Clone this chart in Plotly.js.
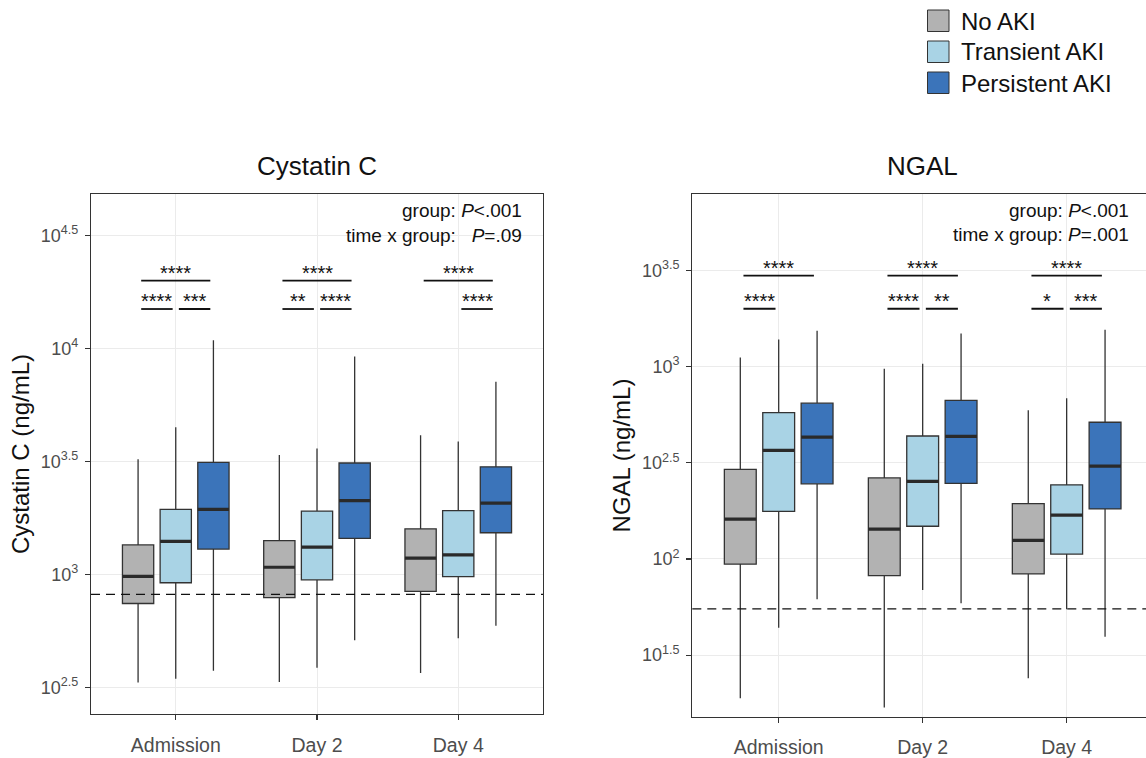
<!DOCTYPE html>
<html><head><meta charset="utf-8">
<script src="https://cdn.plot.ly/plotly-3.0.1.min.js"></script>
<style>html,body{margin:0;padding:0;background:#fff}</style>
</head><body><div id="chart" style="width:1146px;height:758px"></div>
<script>
// ---------------- data ----------------
const timepoints = ['Admission', 'Day 2', 'Day 4'];
const groupNames = ['No AKI', 'Transient AKI', 'Persistent AKI'];

// Cystatin C (ng/mL): box statistics per time point
const cysNoAKI      = {lower: [332, 334, 366],  q1: [743, 789, 841],   median: [980, 1075, 1180],  q3: [1350, 1410, 1590], upper: [3230, 3370, 4130]};
const cysTransient  = {lower: [345, 386, 521],  q1: [918, 946, 977],   median: [1400, 1320, 1220], q3: [1940, 1905, 1915], upper: [4480, 3600, 3870]};
const cysPersistent = {lower: [374, 511, 593],  q1: [1294, 1442, 1528],median: [1940, 2120, 2065], q3: [3130, 3110, 2990], upper: [10860, 9200, 7110]};
const cysThreshold = 815;

// NGAL (ng/mL)
const ngalNoAKI      = {lower: [18.9, 16.9, 24.0], q1: [94, 82, 83.6],   median: [161, 143, 125], q3: [292, 264, 194], upper: [1117, 975, 593]};
const ngalTransient  = {lower: [43.9, 68.9, 54.8], q1: [177, 148, 106],  median: [367, 253, 169], q3: [577, 436, 243], upper: [1384, 1035, 684]};
const ngalPersistent = {lower: [61.7, 58.9, 39.4], q1: [246, 247, 182],  median: [430, 434, 304], q3: [646, 667, 514], upper: [1535, 1486, 1556]};
const ngalThreshold = 55;

// y tick labels (exponents of 10)
const cysTickExps  = [2.5, 3, 3.5, 4, 4.5];
const ngalTickExps = [1.5, 2, 2.5, 3, 3.5];

// pairwise comparisons: [time index, group a, group b, label, row (0 = top, 1 = lower)]
const cysSig = [
  [0, 0, 2, '****', 0], [0, 0, 1, '****', 1], [0, 1, 2, '***', 1],
  [1, 0, 2, '****', 0], [1, 0, 1, '**', 1],   [1, 1, 2, '****', 1],
  [2, 0, 2, '****', 0], [2, 1, 2, '****', 1]
];
const ngalSig = [
  [0, 0, 2, '****', 0], [0, 0, 1, '****', 1],
  [1, 0, 2, '****', 0], [1, 0, 1, '****', 1], [1, 1, 2, '**', 1],
  [2, 0, 2, '****', 0], [2, 0, 1, '*', 1],    [2, 1, 2, '***', 1]
];
const cysStats  = ['group: <i>P</i>&lt;.001', 'time x group:\u00a0\u00a0\u00a0<i>P</i>=.09'];
const ngalStats = ['group: <i>P</i>&lt;.001', 'time x group: <i>P</i>=.001'];

// ---------------- style ----------------
const FONT = 'Liberation Sans, Arial, Helvetica, sans-serif';
const fills = ['#b2b2b2', '#a9d3e5', '#3b74ba'];
const W = 1146, H = 758;
const px = v => v / W;
const py = v => 1 - v / H;
const slot = 0.8 / 3;

const traces = [];
function addPanel(series, xa, ya) {
  series.forEach((s, g) => {
    traces.push({
      type: 'box', x: timepoints, xaxis: xa, yaxis: ya,
      q1: s.q1, median: s.median, q3: s.q3, lowerfence: s.lower, upperfence: s.upper,
      name: groupNames[g], offsetgroup: 'g' + g, fillcolor: fills[g], whiskerwidth: 0,
      line: {color: '#333333', width: 1.3}, boxpoints: false, hoverinfo: 'skip', showlegend: false
    });
    traces.push({
      type: 'box', x: timepoints, xaxis: xa, yaxis: ya,
      q1: s.median, median: s.median, q3: s.median, lowerfence: s.median, upperfence: s.median,
      name: groupNames[g] + ' median', offsetgroup: 'g' + g, fillcolor: 'rgba(0,0,0,0)', whiskerwidth: 0,
      line: {color: '#2a2a2a', width: 3.2}, boxpoints: false, hoverinfo: 'skip', showlegend: false
    });
  });
}
addPanel([cysNoAKI, cysTransient, cysPersistent], 'x', 'y');
addPanel([ngalNoAKI, ngalTransient, ngalPersistent], 'x2', 'y2');

const shapes = [];
const annotations = [];

function sigMarks(list, xref, yref, levels) {
  list.forEach(([t, a, b, label, row]) => {
    const x0 = t + (a - 1) * slot + 0.022;
    const x1 = t + (b - 1) * slot - 0.022;
    const y = levels[row];
    shapes.push({type: 'line', xref, yref, x0, x1, y0: y, y1: y, line: {color: '#111', width: 1.8}, layer: 'above'});
    annotations.push({xref, yref, x: (x0 + x1) / 2, y: Math.log10(y), text: label, showarrow: false,
      yanchor: 'bottom', yshift: -5, font: {family: FONT, size: 20, color: '#111'}});
  });
}
sigMarks(cysSig, 'x', 'y', [19950, 14930]);
sigMarks(ngalSig, 'x2', 'y2', [2972, 2000]);

// threshold lines
shapes.push({type: 'line', xref: 'x domain', yref: 'y', x0: 0, x1: 1, y0: cysThreshold, y1: cysThreshold,
  line: {color: '#111', width: 1.3, dash: '9px,6px'}});
shapes.push({type: 'line', xref: 'x2 domain', yref: 'y2', x0: 0, x1: 1, y0: ngalThreshold, y1: ngalThreshold,
  line: {color: '#111', width: 1.3, dash: '9px,6px'}});

// legend
groupNames.forEach((n, i) => {
  shapes.push({type: 'rect', xref: 'paper', yref: 'paper', x0: px(927.5), x1: px(949), y0: py(10 + 31 * i), y1: py(31.5 + 31 * i),
    fillcolor: fills[i], line: {color: '#333', width: 1}});
  annotations.push({xref: 'paper', yref: 'paper', x: px(959), y: py(21 + 31 * i), xanchor: 'left', yanchor: 'middle',
    text: n, showarrow: false, font: {family: FONT, size: 24, color: '#111'}});
});

// panel titles
annotations.push({xref: 'paper', yref: 'paper', x: px(317), y: py(166), xanchor: 'center', yanchor: 'middle',
  text: 'Cystatin C', showarrow: false, font: {family: FONT, size: 26, color: '#111'}});
annotations.push({xref: 'paper', yref: 'paper', x: px(922.5), y: py(166), xanchor: 'center', yanchor: 'middle',
  text: 'NGAL', showarrow: false, font: {family: FONT, size: 26, color: '#111'}});

// statistics text
[[cysStats, 523.5, [210, 235]], [ngalStats, 1131, [210, 234]]].forEach(([lines, xr, ys]) => {
  lines.forEach((t, i) => annotations.push({xref: 'paper', yref: 'paper', x: px(xr), y: py(ys[i]), xanchor: 'right', yanchor: 'middle',
    text: t, showarrow: false, font: {family: FONT, size: 19, color: '#111'}}));
});

const xBase = {
  type: 'category', showline: true, linecolor: '#333', linewidth: 1.1, mirror: true,
  ticks: 'outside', ticklen: 5, tickwidth: 1.1, tickcolor: '#333', showgrid: true, gridcolor: '#ebebeb', gridwidth: 1,
  zeroline: false, tickfont: {family: FONT, size: 19.5, color: '#4d4d4d'}, ticklabelstandoff: 8, fixedrange: true
};
const yBase = {
  type: 'log', showline: true, linecolor: '#333', linewidth: 1.1,
  ticks: 'outside', ticklen: 5, tickwidth: 1.1, tickcolor: '#333', showgrid: true, gridcolor: '#ebebeb', gridwidth: 1,
  zeroline: false, tickfont: {family: FONT, size: 18, color: '#4d4d4d'}, ticklabelstandoff: 3, fixedrange: true
};
const layout = {
  width: W, height: H, margin: {l: 0, r: 0, t: 0, b: 0},
  paper_bgcolor: '#ffffff', plot_bgcolor: '#ffffff', showlegend: false,
  boxmode: 'group', boxgap: 0.2, boxgroupgap: 0.17,
  font: {family: FONT},
  xaxis: Object.assign({}, xBase, {domain: [px(91), px(543)], range: [-0.6, 2.6], anchor: 'y'}),
  yaxis: Object.assign({}, yBase, {domain: [py(714), py(194)], range: [2.382, 4.683], anchor: 'x', mirror: true,
    tickvals: cysTickExps.map(e => Math.pow(10, e)), ticktext: cysTickExps.map(e => '10<sup>' + e + '</sup>'),
    title: {text: 'Cystatin C (ng/mL)', font: {family: FONT, size: 24, color: '#111'}, standoff: 4}}),
  xaxis2: Object.assign({}, xBase, {domain: [px(692.3), 1], range: [-0.6, 2.551], anchor: 'y2'}),
  yaxis2: Object.assign({}, yBase, {domain: [py(716.7), py(194.3)], range: [1.18, 3.896], anchor: 'x2', mirror: false,
    tickvals: ngalTickExps.map(e => Math.pow(10, e)), ticktext: ngalTickExps.map(e => '10<sup>' + e + '</sup>'),
    title: {text: 'NGAL (ng/mL)', font: {family: FONT, size: 24, color: '#111'}, standoff: 4}}),
  shapes, annotations
};
Plotly.newPlot('chart', traces, layout, {staticPlot: true, displayModeBar: false});
</script></body></html>
